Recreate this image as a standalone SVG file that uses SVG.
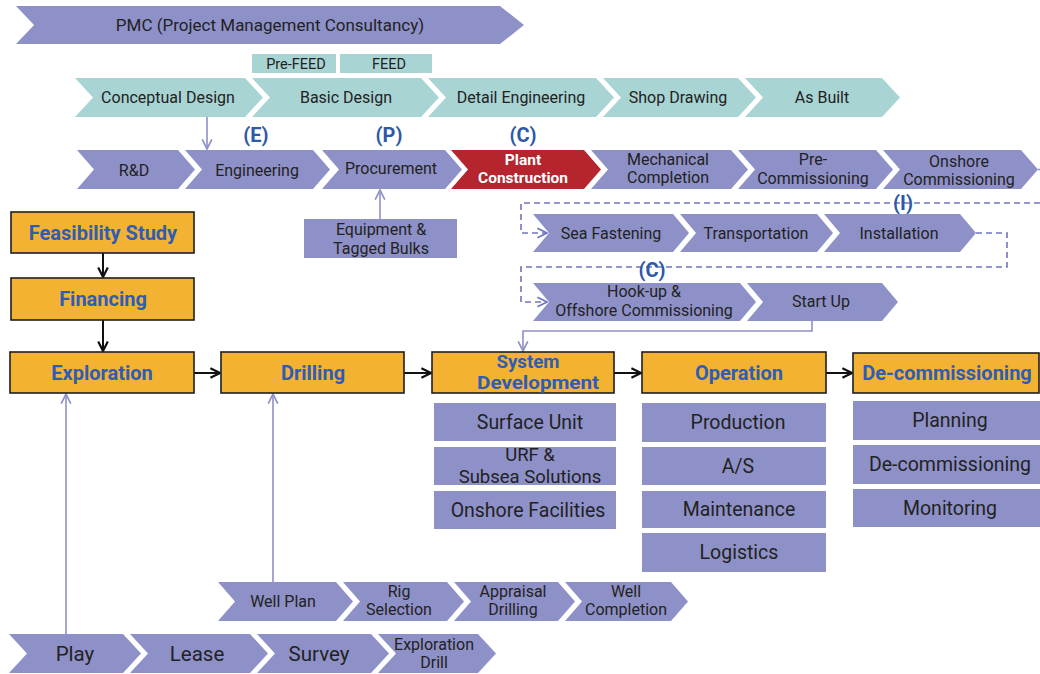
<svg xmlns="http://www.w3.org/2000/svg" width="1040" height="674" viewBox="0 0 1040 674">
<defs>
<style>
.p{fill:#8e91c8}
.t{fill:#a9d4d4}
.r{fill:#b5252d}
.o{fill:#f4b233;stroke:#1e1e1e;stroke-width:1.6}
.tx{font-family:Roboto,"Open Sans","DejaVu Sans",sans-serif;fill:#222;text-anchor:middle;font-size:16px}
.big{font-size:19.5px}
.mid{font-size:20.5px}
.ob{font-family:Roboto,"Open Sans","DejaVu Sans",sans-serif;font-weight:bold;fill:#2f5cb4;text-anchor:middle;font-size:20px}
.wb{font-family:Roboto,"Open Sans","DejaVu Sans",sans-serif;font-weight:bold;fill:#ffffff;text-anchor:middle;font-size:15.5px}
.ep{font-family:Roboto,"Open Sans","DejaVu Sans",sans-serif;font-weight:bold;fill:#2e58a8;text-anchor:middle;font-size:20px}
.ck{fill:none;stroke:#111;stroke-width:2}
.cp{fill:none;stroke:#8e91c8;stroke-width:1.6}
.cd{fill:none;stroke:#6f74c2;stroke-width:1.6;stroke-dasharray:6 4}
</style>
<marker id="ak" viewBox="0 0 10 10" refX="9" refY="5" markerWidth="12" markerHeight="12" orient="auto" markerUnits="userSpaceOnUse"><path d="M1,1 L9,5 L1,9" fill="none" stroke="#111" stroke-width="1.8"/></marker>
<marker id="ap" viewBox="0 0 10 10" refX="9" refY="5" markerWidth="12" markerHeight="12" orient="auto" markerUnits="userSpaceOnUse"><path d="M1,1 L9,5 L1,9" fill="none" stroke="#8e91c8" stroke-width="1.4"/></marker>
<marker id="ad" viewBox="0 0 10 10" refX="9" refY="5" markerWidth="12" markerHeight="12" orient="auto" markerUnits="userSpaceOnUse"><path d="M1,1 L9,5 L1,9" fill="none" stroke="#6f74c2" stroke-width="1.4"/></marker>
</defs>
<rect width="1040" height="674" fill="#ffffff"/>

<g id="connectors">
<path class="cp" d="M207,117 V149" marker-end="url(#ap)"/>
<path class="cp" d="M380,219 V190" marker-end="url(#ap)"/>
<path class="cp" d="M812,321 V331 H523 V351" marker-end="url(#ap)"/>
<path class="cp" d="M66,634 V394" marker-end="url(#ap)"/>
<path class="cp" d="M273,582 V394" marker-end="url(#ap)"/>
<path class="cp" d="M1038,169.5 H1040"/>
<path class="cd" d="M1040,203 H521 V233 H547" marker-end="url(#ad)"/>
<path class="cd" d="M976,233 H1007 V267 H521 V302 H547" marker-end="url(#ad)"/>
<path class="ck" d="M103,253 V277" marker-end="url(#ak)"/>
<path class="ck" d="M103,320 V351" marker-end="url(#ak)"/>
<path class="ck" d="M194,373 H220" marker-end="url(#ak)"/>
<path class="ck" d="M404,373 H431" marker-end="url(#ak)"/>
<path class="ck" d="M614,373 H641" marker-end="url(#ak)"/>
<path class="ck" d="M826,373 H852" marker-end="url(#ak)"/>
</g>

<g id="pmc"><polygon class="p" points="16,6 500,6 524,25 500,44 16,44 34,25"/><text class="tx" x="270" y="31" style="font-size:17px">PMC (Project Management Consultancy)</text></g>
<g id="prefeed"><rect class="t" x="252" y="54" width="84" height="19"/><text class="tx" x="296" y="69" style="font-size:14.5px">Pre-FEED</text></g>
<g id="feed"><rect class="t" x="340" y="54" width="92" height="19"/><text class="tx" x="389" y="69" style="font-size:14.5px">FEED</text></g>

<g id="conceptual"><polygon class="t" points="75,78 245,78 263,97.5 245,117 75,117 93,97.5"/><text class="tx" x="168" y="103">Conceptual Design</text></g>
<g id="basic"><polygon class="t" points="252,78 421,78 439,97.5 421,117 252,117 270,97.5"/><text class="tx" x="346" y="103">Basic Design</text></g>
<g id="detail"><polygon class="t" points="428,78 596,78 614,97.5 596,117 428,117 446,97.5"/><text class="tx" x="521" y="103">Detail Engineering</text></g>
<g id="shop"><polygon class="t" points="603,78 738,78 756,97.5 738,117 603,117 621,97.5"/><text class="tx" x="678" y="103">Shop Drawing</text></g>
<g id="asbuilt"><polygon class="t" points="745,78 882,78 900,97.5 882,117 745,117 763,97.5"/><text class="tx" x="822" y="103">As Built</text></g>

<g id="lblE"><text class="ep" x="256" y="142">(E)</text></g>
<g id="lblP"><text class="ep" x="389" y="142">(P)</text></g>
<g id="lblC1"><text class="ep" x="523" y="142">(C)</text></g>

<g id="rd"><polygon class="p" points="77,150 178,150 195,169.5 178,189 77,189 94,169.5"/><text class="tx" x="134" y="176">R&amp;D</text></g>
<g id="engineering"><polygon class="p" points="185,150 313,150 330,169.5 313,189 185,189 202,169.5"/><text class="tx" x="257" y="176">Engineering</text></g>
<g id="procurement"><polygon class="p" points="322,150 445,150 462,169.5 445,189 322,189 339,169.5"/><text class="tx" x="391" y="174">Procurement</text></g>
<g id="plant"><polygon class="r" points="451,150 584,150 601,169.5 584,189 451,189 468,169.5"/><text class="wb" x="523" y="165">Plant</text><text class="wb" x="523" y="183">Construction</text></g>
<g id="mech"><polygon class="p" points="591,150 731,150 748,169.5 731,189 591,189 608,169.5"/><text class="tx" x="668" y="165">Mechanical</text><text class="tx" x="668" y="183">Completion</text></g>
<g id="precomm"><polygon class="p" points="738,150 876,150 893,169.5 876,189 738,189 755,169.5"/><text class="tx" x="813" y="165">Pre-</text><text class="tx" x="813" y="183.5">Commissioning</text></g>
<g id="onshorecomm"><polygon class="p" points="883,150 1021,150 1038,169.5 1021,189 883,189 900,169.5"/><text class="tx" x="959" y="166.5">Onshore</text><text class="tx" x="959" y="185">Commissioning</text></g>

<g id="equipment"><rect class="p" x="304" y="219" width="153" height="39"/><text class="tx" x="381" y="235">Equipment &amp;</text><text class="tx" x="381" y="254">Tagged Bulks</text></g>

<g id="lblI"><text class="ep" x="903" y="210">(I)</text></g>
<g id="seafast"><polygon class="p" points="533,214 673,214 689,233 673,252 533,252 549,233"/><text class="tx" x="611" y="238.5">Sea Fastening</text></g>
<g id="transport"><polygon class="p" points="680,214 817,214 833,233 817,252 680,252 696,233"/><text class="tx" x="756" y="238.5">Transportation</text></g>
<g id="install"><polygon class="p" points="824,214 960,214 976,233 960,252 824,252 840,233"/><text class="tx" x="899" y="238.5">Installation</text></g>

<g id="lblC2"><text class="ep" x="652" y="277">(C)</text></g>
<g id="hookup"><polygon class="p" points="533,283 740,283 756,302 740,321 533,321 549,302"/><text class="tx" x="644" y="297">Hook-up &amp;</text><text class="tx" x="644" y="316">Offshore Commissioning</text></g>
<g id="startup"><polygon class="p" points="747,283 882,283 898,302 882,321 747,321 763,302"/><text class="tx" x="821" y="307">Start Up</text></g>

<g id="feasibility"><rect class="o" x="11" y="212" width="183" height="41"/><text class="ob" x="103" y="239.5">Feasibility Study</text></g>
<g id="financing"><rect class="o" x="11" y="278" width="183" height="42"/><text class="ob" x="103" y="306">Financing</text></g>
<g id="exploration"><rect class="o" x="10" y="352" width="184" height="41"/><text class="ob" x="102" y="380">Exploration</text></g>
<g id="drilling"><rect class="o" x="221" y="352" width="183" height="41"/><text class="ob" x="313" y="380">Drilling</text></g>
<g id="sysdev"><rect class="o" x="432" y="352" width="182" height="41"/><text class="ob" x="528" y="367.5" style="font-size:18px" textLength="63" lengthAdjust="spacingAndGlyphs">System</text><text class="ob" x="538" y="389" style="font-size:18px" textLength="122" lengthAdjust="spacingAndGlyphs">Development</text></g>
<g id="operation"><rect class="o" x="642" y="352" width="184" height="41"/><text class="ob" x="739" y="380">Operation</text></g>
<g id="decomm"><rect class="o" x="853" y="353" width="186" height="40"/><text class="ob" x="947" y="380">De-commissioning</text></g>

<g id="surface"><rect class="p" x="434" y="403" width="182" height="38"/><text class="tx big" x="530" y="428.5">Surface Unit</text></g>
<g id="urf"><rect class="p" x="434" y="447" width="182" height="38"/><text class="tx" x="530" y="461" style="font-size:18.5px">URF &amp;</text><text class="tx" x="530" y="483" style="font-size:18.5px">Subsea Solutions</text></g>
<g id="onshorefac"><rect class="p" x="434" y="491" width="182" height="38"/><text class="tx big" x="528" y="516.5">Onshore Facilities</text></g>

<g id="production"><rect class="p" x="642" y="403" width="184" height="39"/><text class="tx big" x="738" y="429">Production</text></g>
<g id="as"><rect class="p" x="642" y="447" width="184" height="38"/><text class="tx big" x="738" y="472.5">A/S</text></g>
<g id="maintenance"><rect class="p" x="642" y="491" width="184" height="37"/><text class="tx big" x="739" y="516">Maintenance</text></g>
<g id="logistics"><rect class="p" x="642" y="533" width="184" height="39"/><text class="tx big" x="739" y="559">Logistics</text></g>

<g id="planning"><rect class="p" x="853" y="401" width="187" height="39"/><text class="tx big" x="950" y="427">Planning</text></g>
<g id="decomm2"><rect class="p" x="853" y="445" width="187" height="39"/><text class="tx big" x="950" y="471">De-commissioning</text></g>
<g id="monitoring"><rect class="p" x="853" y="489" width="187" height="38"/><text class="tx big" x="950" y="514.5">Monitoring</text></g>

<g id="wellplan"><polygon class="p" points="218,582 336,582 353,601.5 336,621 218,621 235,601.5"/><text class="tx" x="283" y="607">Well Plan</text></g>
<g id="rig"><polygon class="p" points="343,582 447,582 464,601.5 447,621 343,621 360,601.5"/><text class="tx" x="399" y="596.5">Rig</text><text class="tx" x="399" y="615">Selection</text></g>
<g id="appraisal"><polygon class="p" points="454,582 558,582 575,601.5 558,621 454,621 471,601.5"/><text class="tx" x="513" y="596.5">Appraisal</text><text class="tx" x="513" y="615">Drilling</text></g>
<g id="wellcomp"><polygon class="p" points="565,582 671,582 688,601.5 671,621 565,621 582,601.5"/><text class="tx" x="626" y="596.5">Well</text><text class="tx" x="626" y="615">Completion</text></g>

<g id="play"><polygon class="p" points="9,634 123,634 141,653.5 123,673 9,673 27,653.5"/><text class="tx mid" x="75" y="661">Play</text></g>
<g id="lease"><polygon class="p" points="130,634 250,634 268,653.5 250,673 130,673 148,653.5"/><text class="tx mid" x="197" y="661">Lease</text></g>
<g id="survey"><polygon class="p" points="257,634 371,634 389,653.5 371,673 257,673 275,653.5"/><text class="tx mid" x="319" y="661">Survey</text></g>
<g id="expdrill"><polygon class="p" points="378,634 478,634 496,653.5 478,673 378,673 396,653.5"/><text class="tx" x="434" y="649.5">Exploration</text><text class="tx" x="434" y="668">Drill</text></g>
</svg>
